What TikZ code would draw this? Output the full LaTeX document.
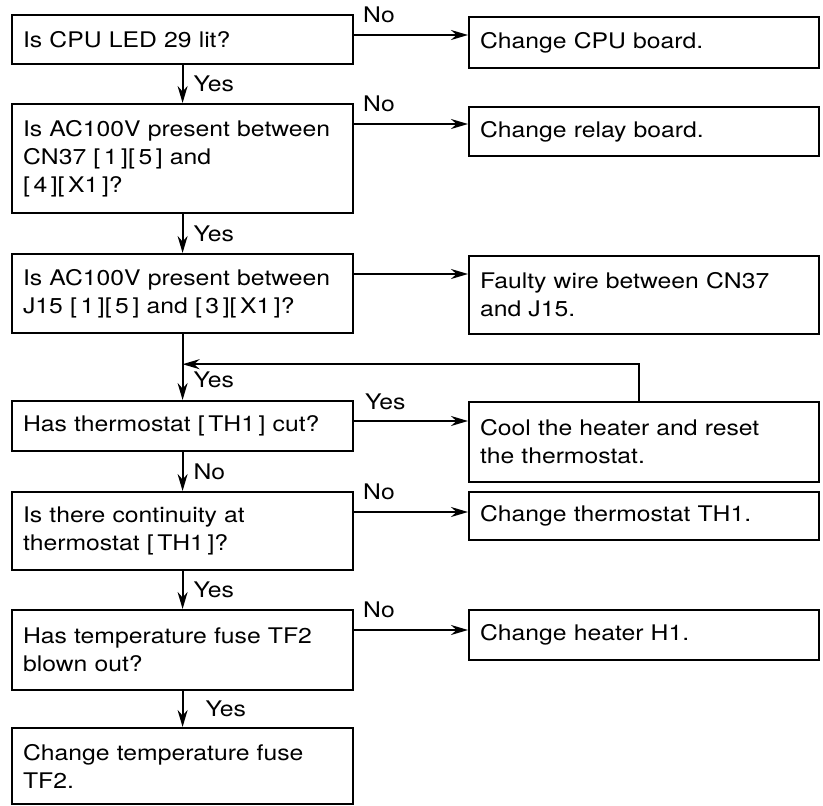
\documentclass[tikz,border=0pt]{standalone}
\usepackage{fontspec}
\setmainfont{TeX Gyre Heros}[FakeStretch=1.15]
\usetikzlibrary{arrows.meta, positioning}

\begin{document}
\begin{tikzpicture}[
    x=1pt, y=-1pt,
    font=\fontsize{21.5}{28}\selectfont,
    qbox/.style={rectangle, draw, line width=2.2pt, anchor=north west, align=left, text width=319pt, inner xsep=11pt, inner ysep=0pt},
    abox/.style={qbox, text width=328pt},
    arrow/.style={-{Stealth[length=17pt, width=10pt]}, line width=2pt},
    lbl/.style={inner sep=0pt}
]
\useasboundingbox (0,0) rectangle (823,806);

% Questions on the left, at absolute positions
\node[qbox, minimum height=49pt] (q1) at (11,14) {Is CPU LED 29 lit?};
\node[qbox, minimum height=109pt] (q2) at (11,103) {Is AC100V present between\\CN37 [\,1\,][\,5\,] and\\{}[\,4\,][\,X1\,]?};
\node[qbox, minimum height=79pt] (q3) at (11,253) {Is AC100V present between\\J15 [\,1\,][\,5\,] and [\,3\,][\,X1\,]?};
\node[qbox, minimum height=50pt] (q4) at (11,400) {Has thermostat [\,TH1\,] cut?};
\node[qbox, minimum height=78pt] (q5) at (11,491) {Is there continuity at\\thermostat [\,TH1\,]?};
\node[qbox, minimum height=80pt] (q6) at (11,609) {Has temperature fuse TF2\\blown out?};
\node[qbox, minimum height=76pt] (q7) at (11,727) {Change temperature fuse\\TF2.};

% Actions on the right
\node[abox, minimum height=51pt] (a1) at (468,16) {Change CPU board.};
\node[abox, minimum height=49pt] (a2) at (468,106) {Change relay board.};
\node[abox, minimum height=78pt] (a3) at (468,255) {Faulty wire between CN37\\and J15.};
\node[abox, minimum height=80pt] (a4) at (468,401) {Cool the heater and reset\\the thermostat.};
\node[abox, minimum height=48pt] (a5) at (468,491) {Change thermostat TH1.};
\node[abox, minimum height=50pt] (a6) at (468,609) {Change heater H1.};

% Down the left column
\draw[arrow] (q1) -- node[lbl, anchor=west, xshift=10pt] {Yes} (q2);
\draw[arrow] (q2) -- node[lbl, anchor=west, xshift=10pt] {Yes} (q3);
\draw[arrow] (q3) -- node[lbl, anchor=west, xshift=10pt, pos=0.7] {Yes} (q4);
\draw[arrow] (q4) -- node[lbl, anchor=west, xshift=10pt] {No} (q5);
\draw[arrow] (q5) -- node[lbl, anchor=west, xshift=10pt] {Yes} (q6);
\draw[arrow] (q6) -- node[lbl, anchor=west, xshift=22pt] {Yes} (q7);

% Across to the right
\draw[arrow] ([yshift=-21pt]q1.north east) coordinate (s1) -- (s1 -| a1.west) node[lbl, pos=0, anchor=base west, xshift=8pt, yshift=13pt] {No};
\draw[arrow] ([yshift=-21pt]q2.north east) coordinate (s2) -- (s2 -| a2.west) node[lbl, pos=0, anchor=base west, xshift=8pt, yshift=13pt] {No};
\draw[arrow] ([yshift=-21pt]q3.north east) coordinate (s3) -- (s3 -| a3.west);
\draw[arrow] ([yshift=-21pt]q4.north east) coordinate (s4) -- (s4 -| a4.west) node[lbl, pos=0, anchor=base west, xshift=10pt, yshift=12pt] {Yes};
\draw[arrow] ([yshift=-21pt]q5.north east) coordinate (s5) -- (s5 -| a5.west) node[lbl, pos=0, anchor=base west, xshift=8pt, yshift=13pt] {No};
\draw[arrow] ([yshift=-21pt]q6.north east) coordinate (s6) -- (s6 -| a6.west) node[lbl, pos=0, anchor=base west, xshift=8pt, yshift=13pt] {No};

% Back to the check after cooling
\draw[arrow] ([xshift=-5pt]a4.north) |- ([yshift=-30pt]q3.south);

\end{tikzpicture}
\end{document}
